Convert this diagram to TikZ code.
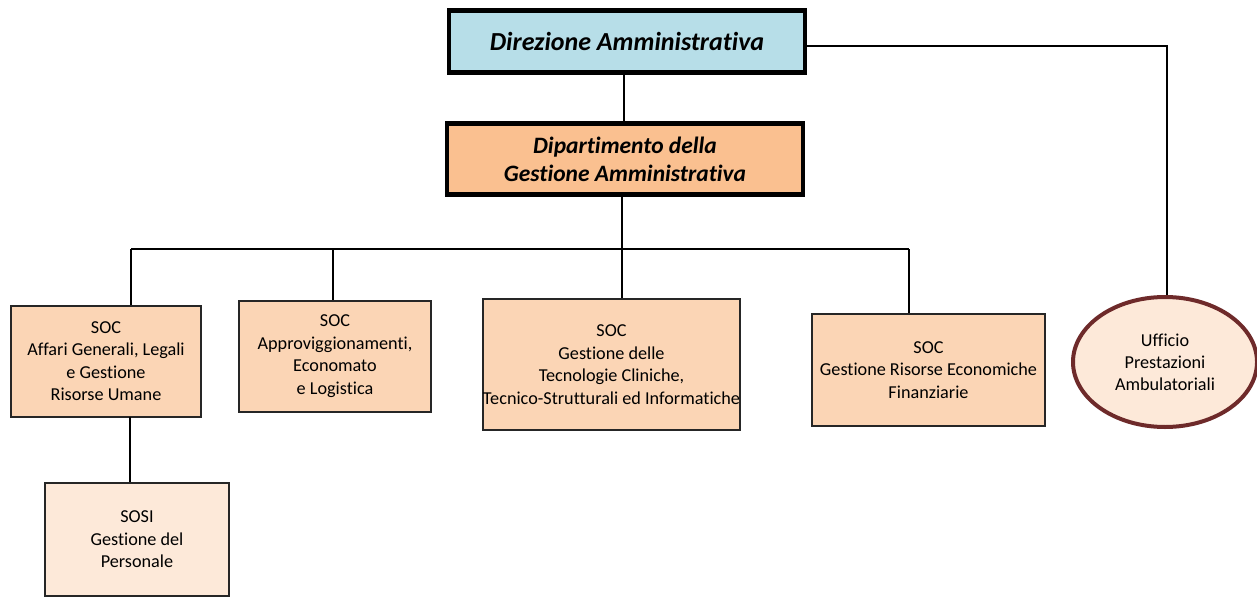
\documentclass[tikz,border=0pt]{standalone}
\usepackage{fontspec}
\setmainfont[Ligatures=NoCommon]{Carlito}
\usetikzlibrary{shapes.geometric}
\definecolor{dirblue}{HTML}{B7DEE8}
\definecolor{diporange}{HTML}{FAC090}
\definecolor{socfill}{HTML}{FBD5B5}
\definecolor{sosifill}{HTML}{FDE9D9}
\definecolor{ellborder}{HTML}{6E2A2A}
\begin{document}
\begin{tikzpicture}[x=1pt,y=-1pt,
  topbox/.style={draw=black,line width=4.5pt,inner sep=0pt,align=center},
  socbox/.style={draw=black!85,line width=2pt,fill=socfill,inner sep=0pt,align=center,font=\fontsize{18.2}{22.5}\selectfont},
  link/.style={draw=black,line width=2pt}]
\useasboundingbox (0,0) rectangle (1257,599);
\node[topbox,fill=dirblue,minimum width=356,minimum height=62,font=\fontsize{26}{28}\selectfont\bfseries\itshape] (dir) at (627,41.5) {Direzione Amministrativa};
\node[topbox,fill=diporange,minimum width=356,minimum height=71,font=\fontsize{23.5}{28}\selectfont\bfseries\itshape] (dip) at (625,159) {Dipartimento della\\Gestione Amministrativa};
\node[socbox,minimum width=190,minimum height=111] (b1) at (106,361) {SOC\\Affari Generali, Legali\\e Gestione\\Risorse Umane};
\node[socbox,minimum width=192,minimum height=111] (b2) at (335,356) {SOC\\Approviggionamenti,\\Economato\\e Logistica};
\node[socbox,minimum width=255,minimum height=131] (b3) at (611.5,364.5) {SOC\\Gestione delle\\Tecnologie Cliniche,\\Tecnico-Strutturali ed Informatiche};
\node[socbox,minimum width=233,minimum height=112] (b4) at (928.5,370) {SOC\\Gestione Risorse Economiche\\Finanziarie};
\node[socbox,fill=sosifill,minimum width=184,minimum height=113] (sosi) at (137,539.5) {SOSI\\Gestione del\\Personale};
\node[ellipse,draw=ellborder,line width=4pt,fill=sosifill,minimum width=184,minimum height=130,inner sep=0pt,align=center,font=\fontsize{18.2}{22}\selectfont] (uff) at (1165,362) {Ufficio\\Prestazioni\\Ambulatoriali};
\coordinate (t1) at (624,0);
\coordinate (t2) at (0,46);
\coordinate (t3) at (1167,0);
\coordinate (bus) at (622,249);
\coordinate (d1) at (131,249);
\coordinate (d2) at (333,249);
\coordinate (d3) at (622,249);
\coordinate (d4) at (909,249);
\coordinate (s1) at (130,417);
\draw[link] (t1 |- dir.south) -- (t1 |- dip.north);
\draw[link] (dip.south -| bus) -- (bus);
\draw[link] (d1) -- (d4);
\draw[link] (d1) -- (d1 |- b1.north);
\draw[link] (d2) -- (d2 |- b2.north);
\draw[link] (d3) -- (d3 |- b3.north);
\draw[link] (d4) -- (d4 |- b4.north);
\draw[link] (s1) -- (s1 |- sosi.north);
\draw[link] (dir.east |- t2) -| (t3 |- uff.north);
\end{tikzpicture}
\end{document}
